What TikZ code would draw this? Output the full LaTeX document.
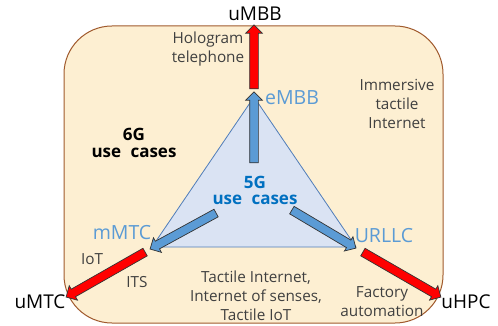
\documentclass[tikz,border=0pt]{standalone}
\usepackage{fontspec}
\setmainfont{Open Sans}
\usetikzlibrary{shapes.arrows,calc}
\definecolor{boxfill}{RGB}{253,239,210}
\definecolor{boxline}{RGB}{160,90,45}
\definecolor{trifill}{RGB}{218,227,243}
\definecolor{triline}{RGB}{80,125,185}
\definecolor{lblue}{RGB}{91,155,213}
\definecolor{dblue}{RGB}{0,112,192}
\definecolor{gtext}{RGB}{64,64,64}
\tikzset{
  blockarrow/.style={single arrow, draw=black!80, line width=0.7pt, inner xsep=0pt,
    inner ysep=4pt, text height=0pt, text depth=0pt, text width=0pt,
    single arrow head extend=4pt, single arrow head indent=0pt, anchor=center},
  redarrow/.style={blockarrow, fill=red},
  bluearrow/.style={blockarrow, fill=lblue},
  gray text/.style={text=gtext, font=\fontsize{15.3}{19}\selectfont, align=center, inner sep=0pt},
  big text/.style={text=black, font=\fontsize{19}{20}\selectfont, inner sep=0pt},
  blue label/.style={text=lblue, font=\fontsize{19.5}{20}\selectfont, inner sep=0pt},
}
\newcommand\blockarr[4]{\path let \p1=($(#4)-(#3)$), \n1={veclen(\x1,\y1)}, \n2={atan2(\y1,\x1)} in
  node[#1, name=#2, minimum height=\n1, rotate=\n2] at ($(#3)!0.5!(#4)$) {};}
\begin{document}
\begin{tikzpicture}[x=1pt,y=-1pt]
\useasboundingbox (0,0) rectangle (498,326);
% outer 6G box
\draw[boxline, fill=boxfill, line width=1pt, rounded corners=48pt] (64,26) rectangle (443,323);
% triangle
\coordinate (top) at (254,97);
\coordinate (left) at (152,247);
\coordinate (right) at (356,247);
\draw[triline, fill=trifill, line width=0.8pt] (top) -- (left) -- (right) -- cycle;
% arrow end points
\coordinate (bu0) at (254,165); \coordinate (bu1) at (254,94);
\coordinate (ru0) at (254,91);  \coordinate (ru1) at (254,27);
\coordinate (bl0) at (218,212); \coordinate (bl1) at (152,248);
\coordinate (rl0) at (147,251); \coordinate (rl1) at (68,296);
\coordinate (br0) at (290,209); \coordinate (br1) at (354,247);
\coordinate (rr0) at (361,251); \coordinate (rr1) at (439,296);
\blockarr{bluearrow}{aBU}{bu0}{bu1}
\blockarr{redarrow}{aRU}{ru0}{ru1}
\blockarr{bluearrow}{aBL}{bl0}{bl1}
\blockarr{redarrow}{aRL}{rl0}{rl1}
\blockarr{bluearrow}{aBR}{br0}{br1}
\blockarr{redarrow}{aRR}{rr0}{rr1}
% labels
\node[big text] (umbb) at (255,14) {uMBB};
\node[big text] (umtc) at (40,302) {uMTC};
\node[big text] (uhpc) at (466,302) {uHPC};
\node[blue label] (embb) at (292,98) {eMBB};
\node[blue label] (mmtc) at (122,233) {mMTC};
\node[blue label] (urllc) at (384,236) {URLLC};
\node[font=\fontsize{17}{17}\selectfont\bfseries, align=center, inner sep=0pt] (sixg) at (134,143) {6G\\use\hspace{0.55em}cases};
\node[text=dblue, font=\fontsize{17}{16}\selectfont\bfseries, align=center, inner sep=0pt] (fiveg) at (255,190) {5G\\use\hspace{0.55em}cases};
\node[gray text] (holo) at (208,49) {Hologram\\telephone};
\node[gray text] (imm) at (397,104) {Immersive\\tactile\\Internet};
\node[gray text] (iot) at (92,259) {IoT};
\node[gray text] (its) at (137,282) {ITS};
\node[gray text] (tact) at (256,296) {Tactile Internet,\\Internet of senses,\\Tactile IoT};
\node[gray text] (fact) at (382,302) {Factory\\automation};
\end{tikzpicture}
\end{document}
